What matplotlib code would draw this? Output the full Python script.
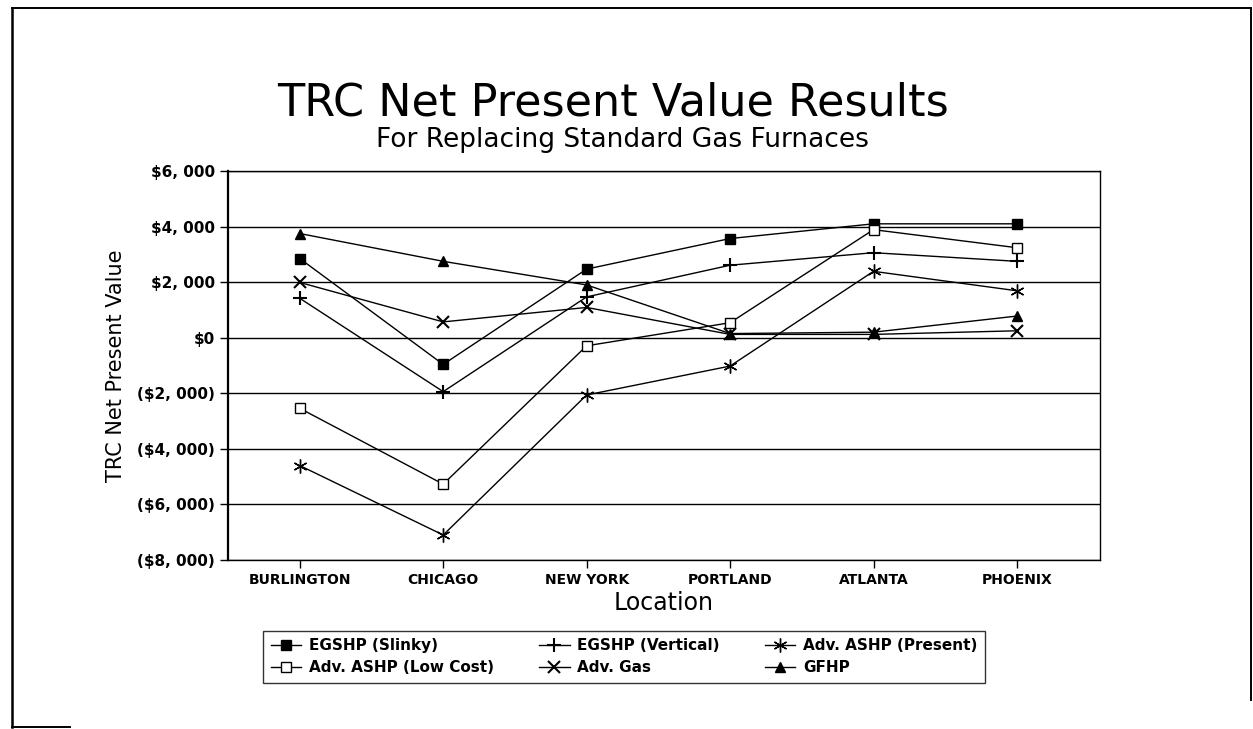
import numpy as np
import matplotlib
matplotlib.use('Agg')
import matplotlib.pyplot as plt
from matplotlib.lines import Line2D

# data
locations = ['BURLINGTON', 'CHICAGO', 'NEW YORK', 'PORTLAND', 'ATLANTA', 'PHOENIX']
egshp_slinky   = [2850, -960, 2470, 3570, 4100, 4100]
egshp_vertical = [1420, -1940, 1470, 2610, 3060, 2750]
ashp_present   = [-4600, -7100, -2060, -1020, 2390, 1690]
ashp_low_cost  = [-2540, -5270, -290, 540, 3890, 3240]
adv_gas        = [1990, 570, 1090, 120, 120, 250]
gfhp           = [3750, 2750, 1900, 150, 200, 780]

y_ticks = [6000, 4000, 2000, 0, -2000, -4000, -6000, -8000]


def money(v):
    if v == 0:
        return '$0'
    s = '${:,}'.format(abs(v)).replace(',', ', ')
    return s if v > 0 else '(' + s + ')'


W, H = 1253, 729
fig = plt.figure(figsize=(W / 100, H / 100), dpi=100, facecolor='white')


def frame_line(xs, ys, lw=1.4):
    fig.add_artist(Line2D([x / W for x in xs], [1 - y / H for y in ys],
                          color='black', lw=lw, transform=fig.transFigure))


# page border (open at the bottom, like the scanned sheet)
frame_line([12, 1251], [8, 8])
frame_line([12, 12], [8, 727], lw=1.8)
frame_line([1251, 1251], [8, 700])
frame_line([12, 70], [727, 727])

ax = fig.add_axes([0.182, 0.2318, 0.696, 0.5336])
x = np.arange(len(locations))

series = [
    ('EGSHP (Slinky)', egshp_slinky, dict(marker='s', ms=7, mfc='black')),
    ('EGSHP (Vertical)', egshp_vertical, dict(marker='+', ms=10, mew=1.5)),
    ('Adv. ASHP (Present)', ashp_present, dict(marker=(6, 2, 0), ms=10, mew=1.0)),
    ('Adv. ASHP (Low Cost)', ashp_low_cost, dict(marker='s', ms=7, mfc='white', mew=1.0)),
    ('Adv. Gas', adv_gas, dict(marker='x', ms=9, mew=1.5)),
    ('GFHP', gfhp, dict(marker='^', ms=7, mfc='black')),
]

handles = {}
for name, vals, style in series:
    ln, = ax.plot(x, vals, color='black', lw=1.0, mec='black', label=name, **style)
    handles[name] = ln

for v in y_ticks:
    ax.axhline(v, color='black', lw=1.0, zorder=0)

ax.set_xlim(-0.5, 5.58)
ax.set_ylim(-8000, 6000)
ax.set_yticks(y_ticks)
ax.set_yticklabels([money(v) for v in y_ticks], fontsize=11, fontweight='bold')
ax.set_xticks(x)
ax.set_xticklabels(locations, fontsize=10, fontweight='bold')
ax.tick_params(direction='out', length=6, width=1.0, color='black')
for sp in ax.spines.values():
    sp.set_linewidth(1.0)
ax.spines['left'].set_linewidth(1.6)

ax.set_ylabel('TRC Net Present Value', fontsize=15, labelpad=8)
ax.set_xlabel('Location', fontsize=17, labelpad=3)

fig.text(0.489, 0.859, 'TRC Net Present Value Results', ha='center', va='center',
         fontsize=32)
fig.text(0.497, 0.808, 'For Replacing Standard Gas Furnaces', ha='center', va='center',
         fontsize=19)

order = ['EGSHP (Slinky)', 'Adv. ASHP (Low Cost)', 'EGSHP (Vertical)', 'Adv. Gas',
         'Adv. ASHP (Present)', 'GFHP']
leg = fig.legend([handles[n] for n in order], order, ncol=3, mode='expand',
                 loc='lower left',
                 bbox_to_anchor=(263 / W, 1 - 683 / H, 722 / W, 55 / H),
                 frameon=True, fancybox=False, edgecolor='black',
                 handlelength=2.0, handletextpad=0.5, columnspacing=0.4,
                 borderpad=0.5, borderaxespad=0, labelspacing=0.45,
                 prop={'weight': 'bold', 'size': 11})
leg.get_frame().set_linewidth(1.0)

fig.savefig('out.png', dpi=100, facecolor='white')
